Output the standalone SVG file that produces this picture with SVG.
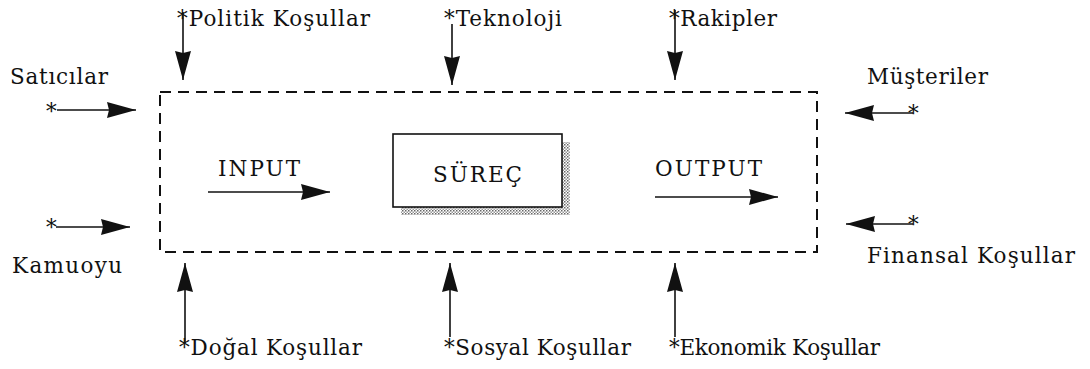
<svg xmlns="http://www.w3.org/2000/svg" width="1090" height="369" viewBox="0 0 1090 369">
  <style>
    .lbl { font-family: "DejaVu Serif", "Liberation Serif", serif; font-size: 21.5px; fill: #111; }
    .ln { stroke: #111; stroke-width: 1.6; fill: none; }
    .frame { stroke: #111; stroke-width: 2; fill: none; stroke-dasharray: 11 7; }
    .box { stroke: #111; stroke-width: 1.6; fill: #fff; }
  </style>
  <defs>
    <marker id="head" viewBox="0 0 29 16" refX="29" refY="8" markerWidth="29" markerHeight="16" markerUnits="userSpaceOnUse" orient="auto">
      <path d="M0,0 L29,8 L0,16 L2,8 Z" fill="#111"/>
    </marker>
    <pattern id="stipple" width="3" height="3" patternUnits="userSpaceOnUse">
      <rect width="3" height="3" fill="#fff"/>
      <rect width="1.5" height="1.5" fill="#666"/>
      <rect x="1.5" y="1.5" width="1.5" height="1.5" fill="#999"/>
    </pattern>
  </defs>

  <rect width="1090" height="369" fill="#fff"/>

  <!-- system boundary -->
  <g id="boundary">
    <rect class="frame" x="160" y="92" width="657" height="160"/>
  </g>

  <!-- central process -->
  <g id="surec">
    <rect x="401" y="142" width="169" height="73" fill="url(#stipple)"/>
    <rect class="box" x="393" y="134" width="169" height="73"/>
    <text class="lbl" x="433" y="182" textLength="89" lengthAdjust="spacing">SÜREÇ</text>
  </g>

  <g id="input">
    <text class="lbl" x="218" y="176" textLength="82" lengthAdjust="spacing">INPUT</text>
  </g>
  <g id="output">
    <text class="lbl" x="655" y="176" textLength="107" lengthAdjust="spacing">OUTPUT</text>
  </g>

  <g id="politik"><text class="lbl" x="177" y="26" textLength="193" lengthAdjust="spacing">*Politik Koşullar</text></g>
  <g id="teknoloji"><text class="lbl" x="444" y="26" textLength="118" lengthAdjust="spacing">*Teknoloji</text></g>
  <g id="rakipler"><text class="lbl" x="669" y="26" textLength="108" lengthAdjust="spacing">*Rakipler</text></g>

  <g id="saticilar">
    <text class="lbl" x="10" y="84" textLength="98" lengthAdjust="spacing">Satıcılar</text>
    <text class="lbl" x="46" y="119">*</text>
  </g>
  <g id="kamuoyu">
    <text class="lbl" x="12" y="273" textLength="110" lengthAdjust="spacing">Kamuoyu</text>
    <text class="lbl" x="46" y="235">*</text>
  </g>
  <g id="musteriler">
    <text class="lbl" x="867" y="84" textLength="121" lengthAdjust="spacing">Müşteriler</text>
    <text class="lbl" x="908" y="121">*</text>
  </g>
  <g id="finansal">
    <text class="lbl" x="867" y="263" textLength="208" lengthAdjust="spacing">Finansal Koşullar</text>
    <text class="lbl" x="908" y="232">*</text>
  </g>

  <g id="dogal"><text class="lbl" x="179" y="355" textLength="183" lengthAdjust="spacing">*Doğal Koşullar</text></g>
  <g id="sosyal"><text class="lbl" x="444" y="355" textLength="187" lengthAdjust="spacing">*Sosyal Koşullar</text></g>
  <g id="ekonomik"><text class="lbl" x="669" y="355" textLength="211" lengthAdjust="spacing">*Ekonomik Koşullar</text></g>

  <!-- connectors -->
  <g id="connectors">
    <line class="ln" x1="208" y1="192" x2="330" y2="192" marker-end="url(#head)"/>
    <line class="ln" x1="655" y1="197" x2="778" y2="197" marker-end="url(#head)"/>

    <line class="ln" x1="183" y1="12" x2="183" y2="80" marker-end="url(#head)"/>
    <line class="ln" x1="452" y1="24" x2="452" y2="85" marker-end="url(#head)"/>
    <line class="ln" x1="675" y1="10" x2="675" y2="80" marker-end="url(#head)"/>

    <line class="ln" x1="57" y1="110" x2="136" y2="110" marker-end="url(#head)"/>
    <line class="ln" x1="56" y1="227" x2="130" y2="227" marker-end="url(#head)"/>
    <line class="ln" x1="913" y1="113" x2="845" y2="113" marker-end="url(#head)"/>
    <line class="ln" x1="913" y1="224" x2="846" y2="224" marker-end="url(#head)"/>

    <line class="ln" x1="185" y1="343" x2="185" y2="263" marker-end="url(#head)"/>
    <line class="ln" x1="450" y1="337" x2="450" y2="263" marker-end="url(#head)"/>
    <line class="ln" x1="675" y1="337" x2="675" y2="263" marker-end="url(#head)"/>
  </g>
</svg>
